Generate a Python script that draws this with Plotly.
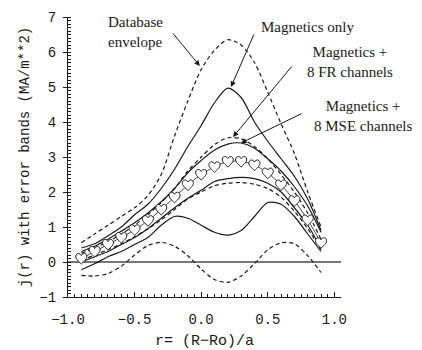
import plotly.graph_objects as go

r = [-0.9, -0.8, -0.7, -0.6, -0.5, -0.4, -0.3, -0.2, -0.1, 0.0,
     0.1, 0.2, 0.3, 0.4, 0.5, 0.6, 0.7, 0.8, 0.9]

db_upper = [0.55, 0.8, 1.05, 1.3, 1.55, 1.9, 2.5, 3.6, 4.6, 5.5,
            6.05, 6.35, 6.2, 5.7, 4.85, 3.95, 3.1, 2.0, 1.0]
db_lower = [-0.38, -0.4, -0.33, -0.12, 0.2, 0.47, 0.56, 0.45, 0.18, -0.2,
            -0.5, -0.58, -0.4, -0.05, 0.35, 0.55, 0.52, 0.18, -0.3]

mag_upper = [0.4, 0.52, 0.75, 1.0, 1.35, 1.65, 2.1, 2.65, 3.3, 3.9,
             4.55, 4.97, 4.7, 4.0, 3.45, 2.95, 2.45, 1.8, 0.9]
mag_lower = [-0.22, -0.05, 0.15, 0.3, 0.5, 0.7, 1.05, 1.3, 1.25, 1.05,
             0.85, 0.77, 0.9, 1.3, 1.7, 1.65, 1.3, 0.8, 0.3]

fr_upper = [0.25, 0.4, 0.58, 0.8, 1.05, 1.35, 1.7, 2.1, 2.6, 3.0,
            3.35, 3.55, 3.52, 3.3, 2.95, 2.5, 2.0, 1.4, 0.65]
fr_lower = [0.05, 0.2, 0.35, 0.52, 0.72, 0.95, 1.2, 1.5, 1.8, 2.0,
            2.18, 2.25, 2.27, 2.22, 2.1, 1.85, 1.45, 0.95, 0.35]

mse_upper = [0.3, 0.45, 0.65, 0.88, 1.12, 1.4, 1.72, 2.1, 2.55, 2.9,
             3.2, 3.37, 3.4, 3.25, 2.95, 2.6, 2.15, 1.6, 0.85]
mse_lower = [0.0, 0.15, 0.3, 0.5, 0.7, 0.95, 1.25, 1.55, 1.82, 2.05,
             2.3, 2.38, 2.42, 2.38, 2.25, 2.0, 1.55, 1.05, 0.4]

true_j = [0.1, 0.3, 0.5, 0.7, 0.92, 1.18, 1.5, 1.85, 2.2, 2.5,
          2.72, 2.87, 2.87, 2.77, 2.54, 2.2, 1.75, 1.2, 0.55]

x_ticks = [-1.0, -0.5, 0.0, 0.5, 1.0]
x_ticklabels = ["−1.0", "−0.5", "0.0", "0.5", "1.0"]
y_ticks = [-1, 0, 1, 2, 3, 4, 5, 6, 7]
y_ticklabels = ["−1", "0", "1", "2", "3", "4", "5", "6", "7"]

MONO = "Liberation Mono, DejaVu Sans Mono, monospace"
SERIF = "Liberation Serif, Times New Roman, serif"
INK = "#1a1a1a"

fig = go.Figure()

def curve(y, dash=None, width=1.2):
    fig.add_trace(go.Scatter(
        x=r, y=y, mode="lines",
        line=dict(color=INK, width=width, dash=dash, shape="spline", smoothing=0.8),
        hoverinfo="skip", showlegend=False))

DASH = "4px,3px"
curve(db_upper, DASH)
curve(db_lower, DASH)
curve(mag_upper)
curve(mag_lower)
curve(fr_upper, DASH)
curve(fr_lower, DASH)
curve(mse_upper)
curve(mse_lower)

# true profile line
fig.add_trace(go.Scatter(
    x=r, y=true_j, mode="lines",
    line=dict(color=INK, width=0.8, shape="spline"),
    hoverinfo="skip", showlegend=False))

# open heart symbols anchored at the data points (pixel-sized glyph)
HEART = ("M 0,-5.5 C -2.5,-3 -6,-0.5 -5.5,2.5 C -5,5.5 -1.5,6 0,3 "
         "C 1.5,6 5,5.5 5.5,2.5 C 6,-0.5 2.5,-3 0,-5.5 Z")
shapes = []
for xi, yi in zip(r, true_j):
    shapes.append(dict(
        type="path", xref="x", yref="y", xsizemode="pixel", ysizemode="pixel",
        xanchor=xi, yanchor=yi, path=HEART,
        line=dict(color=INK, width=1), fillcolor="white", layer="above"))

fig.update_xaxes(
    range=[-1.0, 1.05], tickvals=x_ticks, ticktext=x_ticklabels,
    showline=True, linecolor=INK, linewidth=1.2, mirror=False,
    ticks="inside", ticklen=5, tickcolor=INK, tickwidth=1,
    minor=dict(ticks="inside", dtick=0.05, ticklen=2.5, tickcolor=INK, tickwidth=1),
    showgrid=False, zeroline=False, automargin=False,
    tickfont=dict(family=MONO, size=14, color=INK),
    ticklabelstandoff=9,
    title=dict(text="r= (R−Ro)/a", font=dict(family=MONO, size=15, color=INK), standoff=16),
)
fig.update_yaxes(
    range=[-1, 7], tickvals=y_ticks, ticktext=y_ticklabels,
    showline=True, linecolor=INK, linewidth=1.2, mirror=False,
    ticks="outside", ticklen=4, tickcolor=INK, tickwidth=1,
    minor=dict(ticks="inside", dtick=0.1, ticklen=2.5, tickcolor=INK, tickwidth=1),
    showgrid=False, automargin=False,
    zeroline=True, zerolinecolor="#777777", zerolinewidth=1.6,
    tickfont=dict(family=MONO, size=14, color=INK),
    ticklabelstandoff=4,
    title=dict(text="j(r) with error bands (MA/m**2)",
               font=dict(family=MONO, size=14, color=INK), standoff=6),
)

ann_font = dict(family=SERIF, size=15, color=INK)
annotations = [
    dict(x=-0.715, y=6.57, text="Database<br>envelope", xanchor="left", yanchor="middle",
         showarrow=False, font=ann_font, align="left"),
    dict(x=0.795, y=6.72, text="Magnetics only", xanchor="center", yanchor="middle",
         showarrow=False, font=ann_font),
    dict(x=1.033, y=0.8375, xref="paper", yref="paper", text="Magnetics +<br>8 FR channels",
         xanchor="center", yanchor="middle", showarrow=False, font=ann_font, align="center"),
    dict(x=1.081, y=0.646, xref="paper", yref="paper", text="Magnetics +<br>8 MSE channels",
         xanchor="center", yanchor="middle", showarrow=False, font=ann_font, align="center"),
]
arrows = [
    ((-0.22, 6.57), (-0.01, 5.6)),
    ((0.40, 6.54), (0.224, 5.0)),
    ((0.69, 5.63), (0.239, 3.57)),
    ((0.765, 4.26), (0.299, 3.4)),
]
for (tx, ty), (hx, hy) in arrows:
    annotations.append(dict(
        x=hx, y=hy, ax=tx, ay=ty, xref="x", yref="y", axref="x", ayref="y",
        text="", showarrow=True, arrowhead=2, arrowsize=1.1, arrowwidth=1,
        arrowcolor=INK, standoff=0, startstandoff=0))

fig.update_layout(
    width=422, height=350,
    margin=dict(l=68, r=81, t=17, b=53),
    paper_bgcolor="white", plot_bgcolor="white",
    annotations=annotations, shapes=shapes,
    showlegend=False,
)

fig.write_html("out.html", config={"displayModeBar": False},
               post_script="document.body.style.margin='0px';")
